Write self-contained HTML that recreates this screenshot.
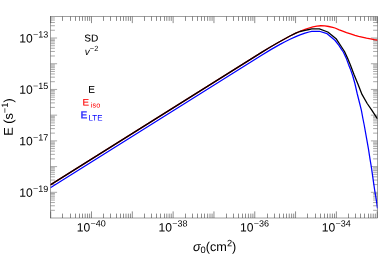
<!DOCTYPE html>
<html><head><meta charset="utf-8"><style>
html,body{margin:0;padding:0;background:#fff;}
svg{display:block;will-change:transform;}
text{font-family:"Liberation Sans",sans-serif;text-rendering:geometricPrecision;}
</style></head><body>
<svg width="379" height="256" viewBox="0 0 379 256">
<defs><clipPath id="c"><rect x="50.5" y="16.5" width="327.00" height="201.50"/></clipPath></defs>
<rect width="379" height="256" fill="#fff"/>
<rect x="50.5" y="16.5" width="327.00" height="201.50" fill="none" stroke="#606060" stroke-width="0.6"/>
<path d="M50.70 218.0v-6.6M50.70 16.5v6.6M62.50 218.0v-4.4M62.50 16.5v4.4M70.50 218.0v-4.4M70.50 16.5v4.4M75.50 218.0v-4.4M75.50 16.5v4.4M79.50 218.0v-4.4M79.50 16.5v4.4M82.50 218.0v-4.4M82.50 16.5v4.4M85.19 218.0v-4.4M85.19 16.5v4.4M87.56 218.0v-4.4M87.56 16.5v4.4M89.64 218.0v-4.4M89.64 16.5v4.4M91.51 218.0v-6.6M91.51 16.5v6.6M103.50 218.0v-4.4M103.50 16.5v4.4M110.50 218.0v-4.4M110.50 16.5v4.4M116.50 218.0v-4.4M116.50 16.5v4.4M120.50 218.0v-4.4M120.50 16.5v4.4M123.50 218.0v-4.4M123.50 16.5v4.4M126.00 218.0v-4.4M126.00 16.5v4.4M128.37 218.0v-4.4M128.37 16.5v4.4M130.45 218.0v-4.4M130.45 16.5v4.4M132.32 218.0v-6.6M132.32 16.5v6.6M144.50 218.0v-4.4M144.50 16.5v4.4M151.50 218.0v-4.4M151.50 16.5v4.4M156.50 218.0v-4.4M156.50 16.5v4.4M160.50 218.0v-4.4M160.50 16.5v4.4M164.50 218.0v-4.4M164.50 16.5v4.4M166.81 218.0v-4.4M166.81 16.5v4.4M169.18 218.0v-4.4M169.18 16.5v4.4M171.26 218.0v-4.4M171.26 16.5v4.4M173.13 218.0v-6.6M173.13 16.5v6.6M185.50 218.0v-4.4M185.50 16.5v4.4M192.50 218.0v-4.4M192.50 16.5v4.4M197.50 218.0v-4.4M197.50 16.5v4.4M201.50 218.0v-4.4M201.50 16.5v4.4M204.50 218.0v-4.4M204.50 16.5v4.4M207.62 218.0v-4.4M207.62 16.5v4.4M209.99 218.0v-4.4M209.99 16.5v4.4M212.07 218.0v-4.4M212.07 16.5v4.4M213.94 218.0v-6.6M213.94 16.5v6.6M226.50 218.0v-4.4M226.50 16.5v4.4M233.50 218.0v-4.4M233.50 16.5v4.4M238.50 218.0v-4.4M238.50 16.5v4.4M242.50 218.0v-4.4M242.50 16.5v4.4M245.50 218.0v-4.4M245.50 16.5v4.4M248.43 218.0v-4.4M248.43 16.5v4.4M250.80 218.0v-4.4M250.80 16.5v4.4M252.88 218.0v-4.4M252.88 16.5v4.4M254.75 218.0v-6.6M254.75 16.5v6.6M267.50 218.0v-4.4M267.50 16.5v4.4M274.50 218.0v-4.4M274.50 16.5v4.4M279.50 218.0v-4.4M279.50 16.5v4.4M283.50 218.0v-4.4M283.50 16.5v4.4M286.50 218.0v-4.4M286.50 16.5v4.4M289.24 218.0v-4.4M289.24 16.5v4.4M291.61 218.0v-4.4M291.61 16.5v4.4M293.69 218.0v-4.4M293.69 16.5v4.4M295.56 218.0v-6.6M295.56 16.5v6.6M307.50 218.0v-4.4M307.50 16.5v4.4M315.50 218.0v-4.4M315.50 16.5v4.4M320.50 218.0v-4.4M320.50 16.5v4.4M324.50 218.0v-4.4M324.50 16.5v4.4M327.50 218.0v-4.4M327.50 16.5v4.4M330.05 218.0v-4.4M330.05 16.5v4.4M332.42 218.0v-4.4M332.42 16.5v4.4M334.50 218.0v-4.4M334.50 16.5v4.4M336.37 218.0v-6.6M336.37 16.5v6.6M348.50 218.0v-4.4M348.50 16.5v4.4M355.50 218.0v-4.4M355.50 16.5v4.4M360.50 218.0v-4.4M360.50 16.5v4.4M364.50 218.0v-4.4M364.50 16.5v4.4M368.50 218.0v-4.4M368.50 16.5v4.4M370.86 218.0v-4.4M370.86 16.5v4.4M373.23 218.0v-4.4M373.23 16.5v4.4M375.31 218.0v-4.4M375.31 16.5v4.4M377.18 218.0v-6.6M377.18 16.5v6.6" stroke="#404040" stroke-width="0.6" fill="none"/>
<path d="M50.5 192.32h6.6M377.5 192.32h-6.6M50.5 166.60h6.6M377.5 166.60h-6.6M50.5 140.88h6.6M377.5 140.88h-6.6M50.5 115.16h6.6M377.5 115.16h-6.6M50.5 89.44h6.6M377.5 89.44h-6.6M50.5 63.72h6.6M377.5 63.72h-6.6M50.5 38.00h6.6M377.5 38.00h-6.6" stroke="#505050" stroke-width="0.5" fill="none"/>
<path d="M50.5 210.30h4.4M377.5 210.30h-4.4M50.5 205.77h4.4M377.5 205.77h-4.4M50.5 202.56h4.4M377.5 202.56h-4.4M50.5 200.06h4.4M377.5 200.06h-4.4M50.5 198.03h4.4M377.5 198.03h-4.4M50.5 196.30h4.4M377.5 196.30h-4.4M50.5 194.81h4.4M377.5 194.81h-4.4M50.5 193.50h4.4M377.5 193.50h-4.4M50.5 184.58h4.4M377.5 184.58h-4.4M50.5 180.05h4.4M377.5 180.05h-4.4M50.5 176.84h4.4M377.5 176.84h-4.4M50.5 174.34h4.4M377.5 174.34h-4.4M50.5 172.31h4.4M377.5 172.31h-4.4M50.5 170.58h4.4M377.5 170.58h-4.4M50.5 169.09h4.4M377.5 169.09h-4.4M50.5 167.78h4.4M377.5 167.78h-4.4M50.5 158.86h4.4M377.5 158.86h-4.4M50.5 154.33h4.4M377.5 154.33h-4.4M50.5 151.12h4.4M377.5 151.12h-4.4M50.5 148.62h4.4M377.5 148.62h-4.4M50.5 146.59h4.4M377.5 146.59h-4.4M50.5 144.86h4.4M377.5 144.86h-4.4M50.5 143.37h4.4M377.5 143.37h-4.4M50.5 142.06h4.4M377.5 142.06h-4.4M50.5 133.14h4.4M377.5 133.14h-4.4M50.5 128.61h4.4M377.5 128.61h-4.4M50.5 125.40h4.4M377.5 125.40h-4.4M50.5 122.90h4.4M377.5 122.90h-4.4M50.5 120.87h4.4M377.5 120.87h-4.4M50.5 119.14h4.4M377.5 119.14h-4.4M50.5 117.65h4.4M377.5 117.65h-4.4M50.5 116.34h4.4M377.5 116.34h-4.4M50.5 107.42h4.4M377.5 107.42h-4.4M50.5 102.89h4.4M377.5 102.89h-4.4M50.5 99.68h4.4M377.5 99.68h-4.4M50.5 97.18h4.4M377.5 97.18h-4.4M50.5 95.15h4.4M377.5 95.15h-4.4M50.5 93.42h4.4M377.5 93.42h-4.4M50.5 91.93h4.4M377.5 91.93h-4.4M50.5 90.62h4.4M377.5 90.62h-4.4M50.5 81.70h4.4M377.5 81.70h-4.4M50.5 77.17h4.4M377.5 77.17h-4.4M50.5 73.96h4.4M377.5 73.96h-4.4M50.5 71.46h4.4M377.5 71.46h-4.4M50.5 69.43h4.4M377.5 69.43h-4.4M50.5 67.70h4.4M377.5 67.70h-4.4M50.5 66.21h4.4M377.5 66.21h-4.4M50.5 64.90h4.4M377.5 64.90h-4.4M50.5 55.98h4.4M377.5 55.98h-4.4M50.5 51.45h4.4M377.5 51.45h-4.4M50.5 48.24h4.4M377.5 48.24h-4.4M50.5 45.74h4.4M377.5 45.74h-4.4M50.5 43.71h4.4M377.5 43.71h-4.4M50.5 41.98h4.4M377.5 41.98h-4.4M50.5 40.49h4.4M377.5 40.49h-4.4M50.5 39.18h4.4M377.5 39.18h-4.4M50.5 30.26h4.4M377.5 30.26h-4.4M50.5 25.73h4.4M377.5 25.73h-4.4M50.5 22.52h4.4M377.5 22.52h-4.4M50.5 20.02h4.4M377.5 20.02h-4.4M50.5 17.99h4.4M377.5 17.99h-4.4" stroke="#505050" stroke-width="0.5" fill="none"/>
<g clip-path="url(#c)">
<path d="M50.40 184.85 L262.00 52.10 L270.00 47.20 L275.60 44.00 L280.00 41.50 L285.00 38.80 L290.00 36.00 L295.80 33.05 L300.00 31.25 L305.00 29.45 L309.00 28.00 L312.90 26.80 L316.90 26.10 L320.80 25.75 L324.80 25.90 L328.75 26.50 L332.70 27.30 L335.00 28.00 L339.25 29.80 L342.70 31.10 L346.50 32.60 L350.60 33.90 L355.00 35.30 L358.60 36.30 L366.50 38.20 L374.40 39.70 L377.50 40.20" stroke="#ff0000" stroke-width="1.3" fill="none" stroke-linejoin="round"/>
<path d="M50.40 187.80 L262.00 55.00 L270.80 49.60 L280.00 44.40 L285.00 41.80 L290.00 39.30 L295.80 36.60 L300.00 34.90 L305.00 33.10 L309.00 32.00 L311.80 31.45 L319.30 31.25 L327.10 33.70 L334.90 40.25 L338.90 45.30 L341.50 49.40 L343.30 52.00 L346.10 57.90 L348.50 64.40 L350.30 68.90 L352.50 75.00 L354.90 83.50 L357.30 94.00 L359.70 103.50 L361.30 109.80 L363.00 119.00 L364.20 125.00 L366.80 139.70 L368.40 148.70 L370.10 159.70 L371.60 168.70 L373.15 179.70 L374.70 190.30 L376.10 198.70 L377.50 208.30" stroke="#0000ff" stroke-width="1.25" fill="none" stroke-linejoin="round"/>
<path d="M50.40 184.85 L262.00 52.10 L270.00 47.20 L275.60 44.00 L280.00 41.50 L285.00 38.80 L290.00 36.00 L295.80 33.10 L300.00 31.50 L305.00 30.30 L309.00 29.50 L311.80 28.95 L319.40 28.90 L327.80 32.00 L336.40 39.10 L340.60 45.50 L344.50 51.50 L347.40 57.70 L350.20 64.40 L354.10 74.80 L358.10 84.50 L362.00 94.40 L367.20 103.50 L371.60 109.80 L377.50 118.80" stroke="#000000" stroke-width="1.3" fill="none" stroke-linejoin="round"/>
</g>
<text transform="translate(90.26,231.40) rotate(0.03)" font-size="12.1" text-anchor="end">10</text><text transform="translate(90.56,226.50) rotate(0.03)" font-size="9.0" text-anchor="start">−40</text>
<text transform="translate(171.88,231.40) rotate(0.03)" font-size="12.1" text-anchor="end">10</text><text transform="translate(172.18,226.50) rotate(0.03)" font-size="9.0" text-anchor="start">−38</text>
<text transform="translate(253.50,231.40) rotate(0.03)" font-size="12.1" text-anchor="end">10</text><text transform="translate(253.80,226.50) rotate(0.03)" font-size="9.0" text-anchor="start">−36</text>
<text transform="translate(335.12,231.40) rotate(0.03)" font-size="12.1" text-anchor="end">10</text><text transform="translate(335.42,226.50) rotate(0.03)" font-size="9.0" text-anchor="start">−34</text>
<text transform="translate(32.75,42.40) rotate(0.03)" font-size="12.1" text-anchor="end">10</text><text transform="translate(33.10,37.55) rotate(0.03)" font-size="9.0" text-anchor="start">−13</text>
<text transform="translate(32.75,93.84) rotate(0.03)" font-size="12.1" text-anchor="end">10</text><text transform="translate(33.10,88.99) rotate(0.03)" font-size="9.0" text-anchor="start">−15</text>
<text transform="translate(32.75,145.28) rotate(0.03)" font-size="12.1" text-anchor="end">10</text><text transform="translate(33.10,140.43) rotate(0.03)" font-size="9.0" text-anchor="start">−17</text>
<text transform="translate(32.75,196.72) rotate(0.03)" font-size="12.1" text-anchor="end">10</text><text transform="translate(33.10,191.87) rotate(0.03)" font-size="9.0" text-anchor="start">−19</text>
<text transform="translate(214.60,250.90) rotate(0.03)" font-size="12.7" text-anchor="middle"><tspan font-style="italic">σ</tspan><tspan font-size="9.3" dy="2">0</tspan><tspan dy="-2">(cm</tspan><tspan font-size="9.3" dy="-4.6">2</tspan><tspan dy="4.6">)</tspan></text>
<text transform="translate(12.70,117.00) rotate(-90.03)" font-size="12.7" text-anchor="middle">E (s<tspan font-size="9.3" dy="-4.6">−1</tspan><tspan dy="4.6">)</tspan></text>
<text transform="translate(91.30,41.50) rotate(0.03)" font-size="10" text-anchor="middle">SD</text>
<text transform="translate(91.45,41.50) rotate(0.03)" font-size="10" text-anchor="middle" fill-opacity="0.4">SD</text>
<text transform="translate(91.60,55.00) rotate(0.03)" font-size="10" text-anchor="middle"><tspan font-style="italic">v</tspan><tspan font-size="7.5" dy="-4.0">−2</tspan></text>
<text transform="translate(91.50,92.80) rotate(0.03)" font-size="10" text-anchor="middle">E</text>
<text transform="translate(91.65,92.80) rotate(0.03)" font-size="10" text-anchor="middle" fill-opacity="0.5">E</text>
<text transform="translate(82.4,105.6) rotate(0.03) scale(1.06,1)" font-size="9.4" fill="#ff0000">E</text>
<text transform="translate(82.55,105.6) rotate(0.03) scale(1.06,1)" font-size="9.4" fill="#ff0000" fill-opacity="0.3">E</text>
<text transform="translate(90.85,107.60) rotate(0.03)" font-size="7.3" text-anchor="start" fill="#ff0000" letter-spacing="0.05">iso</text>
<text transform="translate(80.60,118.60) rotate(0.03)" font-size="10" text-anchor="start" fill="#0000ff"><tspan font-weight="bold" font-size="10.4" fill-opacity="0.82">E</tspan><tspan font-size="7.9" dx="1.0" dy="1.9">LTE</tspan></text>
</svg>
</body></html>
